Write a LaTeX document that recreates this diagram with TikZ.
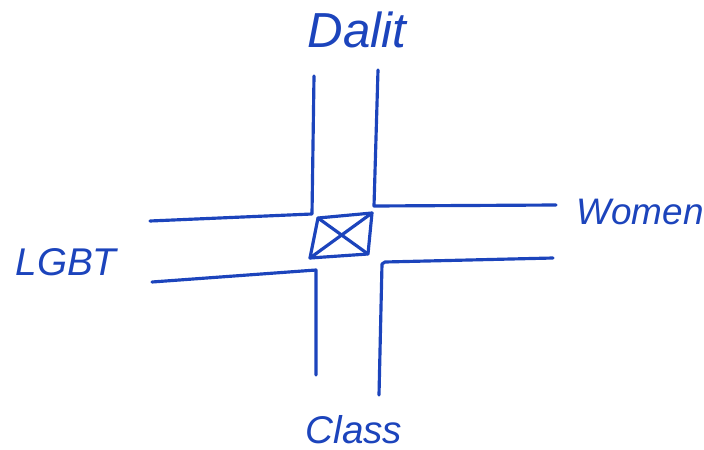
\documentclass[tikz,border=0pt]{standalone}
\usepackage{fontspec}
\setmainfont{Liberation Sans}
\usepackage{tikz}
\usetikzlibrary{positioning}
\definecolor{ink}{RGB}{28,68,188}

\begin{document}
\begin{tikzpicture}[
  x=0.02cm, y=-0.02cm,
  road/.style={draw=ink, line width=1.8pt, line cap=round, line join=round},
  lbl/.style={font=\fontsize{22}{26}\selectfont\itshape, text=ink, inner sep=0pt}
]
\useasboundingbox[fill=white] (0,0) rectangle (704,450);

% --- Centre box ---
\coordinate (tl) at (318,218);
\coordinate (tr) at (372,213);
\coordinate (br) at (368,254);
\coordinate (bl) at (310,258);
\draw[road] (tl) -- (tr) -- (br) -- (bl) -- cycle;
\draw[road] (tl) -- (br);
\draw[road] (tr) -- (bl);

% --- Road edges ---
\draw[road] (150,221) -- (312,214) -- (314,76);
\draw[road] (378,70) -- (374,206) -- (556,205);
\draw[road] (152,282) -- (316,270) -- (316,375);
\draw[road] (553,258) -- (385,262) -- (382,264) -- (379,395);

% --- Labels ---
\node[lbl, font=\fontsize{28}{32}\selectfont\itshape] (dalit) at (357,30) {Dalit};
\node[lbl, font=\fontsize{21}{25}\selectfont\itshape] (women) at (640,212) {Women};
\node[lbl] (lgbt) at (66,262) {LGBT};
\node[lbl] (class) at (354,430) {Class};

\end{tikzpicture}
\end{document}
